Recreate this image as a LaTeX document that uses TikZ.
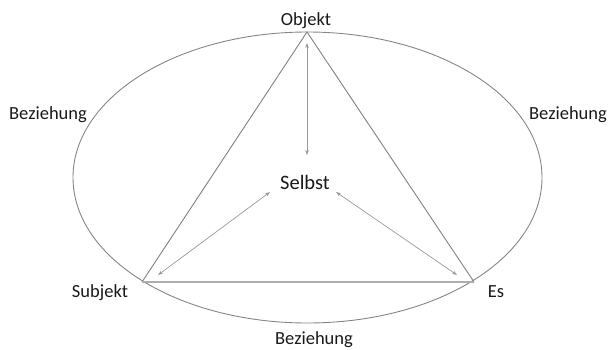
\documentclass[tikz,border=0pt]{standalone}
\usepackage{fontspec}
\setmainfont{Carlito}
\usetikzlibrary{arrows.meta}
\begin{document}
\begin{tikzpicture}[x=1pt,y=-1pt,
  outline/.style={draw=black!48,line width=0.9pt},
  edge/.style={draw=black!50,line width=0.9pt},
  baseedge/.style={draw=black!32,line width=1.6pt},
  link/.style={draw=black!40,line width=0.7pt,{Stealth[length=5pt,width=3.5pt]}-{Stealth[length=5pt,width=3.5pt]}},
  lbl/.style={anchor=base,inner sep=0pt,text=black!90,font=\fontsize{18.5}{22}\selectfont},
  centre/.style={anchor=base,inner sep=0pt,text=black!90,font=\fontsize{20.5}{24}\selectfont}]
  \useasboundingbox (0,0) rectangle (610,349);

  % outer relation ellipse
  \draw[outline] (307.5,177.5) ellipse [x radius=234.5, y radius=145.5];

  % triangle corners
  \coordinate (top) at (307,32);
  \coordinate (left) at (142,282);
  \coordinate (right) at (474,282);
  \draw[edge] (left) -- (top) -- (right);
  \draw[baseedge] (left) -- (right);

  % labels
  \node[lbl] (objekt) at (306,25) {Objekt};
  \node[lbl] (subjekt) at (100,297) {Subjekt};
  \node[lbl] (es) at (496,297) {Es};
  \node[lbl] (bzl) at (48,119) {Beziehung};
  \node[lbl] (bzr) at (568,119) {Beziehung};
  \node[lbl] (bzb) at (314,344) {Beziehung};
  \node[centre] (selbst) at (305,189) {Selbst};

  % arrow ends
  \coordinate (aTopA) at (307,43);
  \coordinate (aTopB) at (307,155);
  \coordinate (aLeftA) at (270,192);
  \coordinate (aLeftB) at (158,275);
  \coordinate (aRightA) at (336,192);
  \coordinate (aRightB) at (457,275);
  \draw[link] (aTopA) -- (aTopB);
  \draw[link] (aLeftA) -- (aLeftB);
  \draw[link] (aRightA) -- (aRightB);
\end{tikzpicture}
\end{document}
